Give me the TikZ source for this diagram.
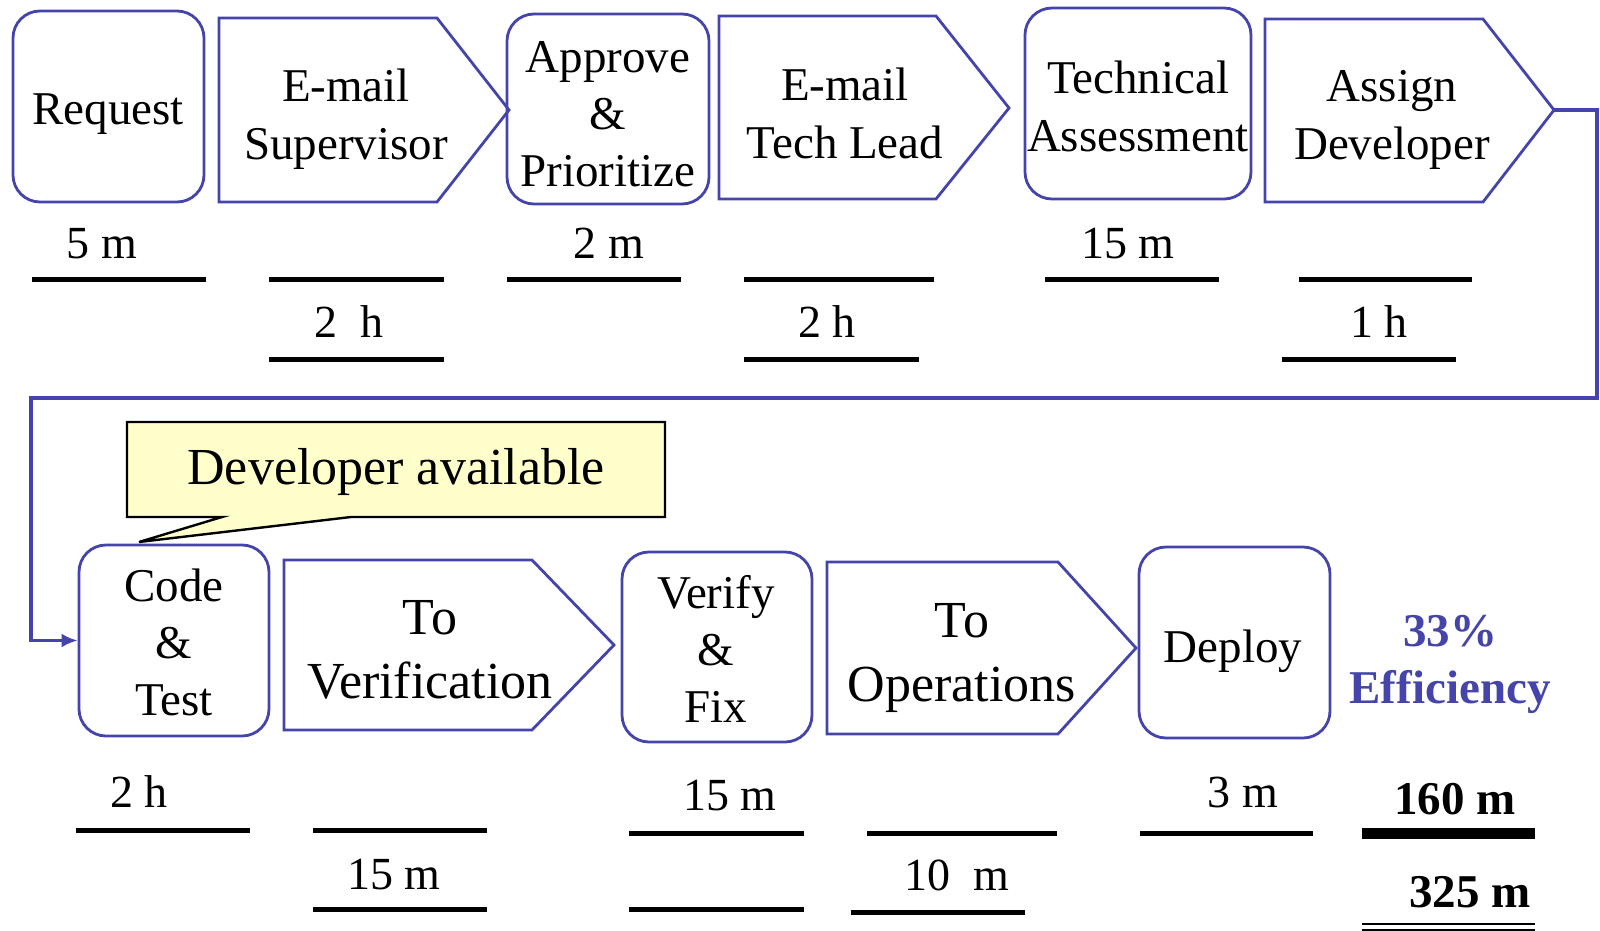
\documentclass[tikz,border=0pt]{standalone}
\usepackage{fontspec}
\setmainfont{Liberation Serif}
\usetikzlibrary{arrows.meta}
\definecolor{flowblue}{RGB}{68,68,170}
\definecolor{notefill}{RGB}{255,255,204}

\begin{document}
\begin{tikzpicture}[x=0.5pt,y=-0.5pt,
  rbox/.style={draw=flowblue,line width=1.4pt,rounded corners=13.5pt,inner sep=0pt},
  pent/.style={draw=flowblue,line width=1.4pt,line join=miter},
  lbl/.style={font=\fontsize{23.5}{28.5}\selectfont,align=center,anchor=base,inner sep=0pt},
  biglbl/.style={font=\fontsize{26}{31.75}\selectfont,align=center,anchor=base,inner sep=0pt},
  timelbl/.style={font=\fontsize{23}{28}\selectfont,anchor=base,inner sep=0pt},
  boldlbl/.style={font=\fontsize{23.5}{28.5}\selectfont\bfseries,align=center,anchor=base,inner sep=0pt},
  bar/.style={line width=2.5pt},
  flow/.style={draw=flowblue,line width=1.8pt,-{Latex[length=8pt,width=7pt]}}]

\useasboundingbox (0,0) rectangle (1600,931);

% ---- top row: process steps and waits ----
% (multi-line labels are anchored at the baseline of their last line)
\node[rbox,minimum width=95.5pt,minimum height=95.5pt] (request) at (108.5,106.5) {};
\node[lbl] (requestT) at (108,125) {Request};

\draw[pent] (219,18) -- (437,18) -- (509,110) -- (437,202) -- (219,202) -- cycle;
\node[lbl] (supT) at (346,159) {E-mail\\Supervisor};

\node[rbox,minimum width=101pt,minimum height=95pt] (approve) at (608,109) {};
\node[lbl] (approveT) at (608,186) {Approve\\\&\\Prioritize};

\draw[pent] (719,16) -- (936,16) -- (1009,108) -- (936,199) -- (719,199) -- cycle;
\node[lbl] (leadT) at (845,158) {E-mail\\Tech Lead};

\node[rbox,minimum width=113pt,minimum height=95.5pt] (tech) at (1138,103.5) {};
\node[lbl] (techT) at (1138,151) {Technical\\Assessment};

\draw[pent] (1265,19) -- (1483,19) -- (1554,110) -- (1483,202) -- (1265,202) -- cycle;
\node[lbl] (assignT) at (1392,159) {Assign\\Developer};
\coordinate (assigntip) at (1554,110);

% top row times
\node[timelbl] (t1) at (102,258) {5 m};
\draw[bar] (32,279) -- (206,279);
\node[timelbl] (t2) at (349,337) {2\ \ h};
\draw[bar] (269,279) -- (444,279);
\draw[bar] (269,359) -- (444,359);
\node[timelbl] (t3) at (609,258) {2 m};
\draw[bar] (507,279) -- (681,279);
\node[timelbl] (t4) at (827,337) {2 h};
\draw[bar] (744,279) -- (934,279);
\draw[bar] (744,359) -- (919,359);
\node[timelbl] (t5) at (1128,258) {15 m};
\draw[bar] (1045,279) -- (1219,279);
\node[timelbl] (t6) at (1379,337) {1 h};
\draw[bar] (1299,279) -- (1472,279);
\draw[bar] (1282,359) -- (1456,359);

% ---- bottom row ----
\node[rbox,minimum width=95pt,minimum height=95.5pt] (code) at (174,640.5) {};
\node[lbl] (codeT) at (174,715) {Code\\\&\\Test};

\draw[pent] (284,560) -- (532,560) -- (614,645) -- (532,730) -- (284,730) -- cycle;
\node[biglbl] (verifT) at (430,698) {To\\Verification};

\node[rbox,minimum width=95pt,minimum height=95pt] (verify) at (717,647) {};
\node[lbl] (verifyT) at (716,722) {Verify\\\&\\Fix};

\draw[pent] (827,562) -- (1058,562) -- (1136,648) -- (1058,734) -- (827,734) -- cycle;
\node[biglbl] (opsT) at (962,701) {To\\Operations};

\node[rbox,minimum width=95.5pt,minimum height=95.5pt] (deploy) at (1234.5,642.5) {};
\node[lbl] (deployT) at (1233,662) {Deploy};

\node[boldlbl,text=flowblue] (eff) at (1450,703) {33\%\\Efficiency};

% bottom row times
\node[timelbl] (b1) at (139,807) {2 h};
\draw[bar] (76,830) -- (250,830);
\node[timelbl] (b2) at (394,889) {15 m};
\draw[bar] (313,830) -- (487,830);
\draw[bar] (313,909) -- (487,909);
\node[timelbl] (b3) at (730,810) {15 m};
\draw[bar] (629,833) -- (804,833);
\draw[bar] (629,909) -- (804,909);
\node[timelbl] (b4) at (957,890) {10\ \ m};
\draw[bar] (867,833) -- (1057,833);
\draw[bar] (851,912) -- (1025,912);
\node[timelbl] (b5) at (1243,807) {3 m};
\draw[bar] (1140,833) -- (1313,833);

% totals
\node[boldlbl] (total1) at (1455,814) {160 m};
\draw[line width=5.5pt] (1362,833.5) -- (1535,833.5);
\node[boldlbl] (total2) at (1470,907) {325 m};
\draw[line width=1pt] (1362,924) -- (1535,924);
\draw[line width=1pt] (1362,929.5) -- (1535,929.5);

% ---- callout ----
\draw[fill=notefill,line width=1.2pt,line join=miter]
  (127,422) -- (665,422) -- (665,517) -- (351,517) -- (139,542) -- (222,517) -- (127,517) -- cycle;
\node[biglbl] (note) at (396,484) {Developer available};

% ---- wrap-around connector ----
\draw[flow] (assigntip) -- (1597,110) -- (1597,398) -- (31,398) -- (31,640.5) -- (code.west);
\end{tikzpicture}
\end{document}
